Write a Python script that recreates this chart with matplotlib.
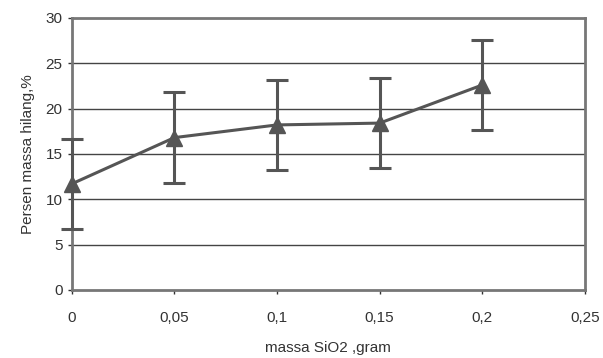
import matplotlib.pyplot as plt

plt.rcParams['font.family'] = ['Liberation Sans', 'DejaVu Sans']

# data
massa_sio2 = [0, 0.05, 0.1, 0.15, 0.2]
persen_hilang = [11.7, 16.8, 18.2, 18.4, 22.6]
galat = [5.0, 5.0, 5.0, 5.0, 5.0]

x_ticks = [0, 0.05, 0.1, 0.15, 0.2, 0.25]
x_ticklabels = ['0', '0,05', '0,1', '0,15', '0,2', '0,25']
y_ticks = [0, 5, 10, 15, 20, 25, 30]

fig = plt.figure(figsize=(6.03, 3.58), dpi=100)
ax = fig.add_axes([0.119, 0.19, 0.851, 0.76])

# horizontal grid
for yv in y_ticks[1:-1]:
    ax.axhline(yv, color='#444444', lw=1.0, zorder=1)

eb = ax.errorbar(massa_sio2, persen_hilang, yerr=galat, color='#555555',
                 lw=2.2, elinewidth=2.2, capsize=8, capthick=2.2,
                 marker='^', markersize=11, zorder=3)
# first point sits on the axis, don't clip it
for art in [eb.lines[0]] + list(eb.lines[1]) + list(eb.lines[2]):
    art.set_clip_on(False)

ax.set_xlim(0, 0.25)
ax.set_ylim(0, 30)
ax.set_xticks(x_ticks)
ax.set_xticklabels(x_ticklabels)
ax.set_yticks(y_ticks)
ax.tick_params(labelsize=11, colors='#333333', length=3, width=1)
ax.tick_params(axis='x', pad=12)

for sp in ax.spines.values():
    sp.set_color('#777777')
    sp.set_linewidth(2)

ax.set_xlabel('massa SiO2 ,gram', fontsize=11, color='#333333', labelpad=12)
ax.set_ylabel('Persen massa hilang,%', fontsize=11, color='#333333', labelpad=8)

fig.savefig('out.png', dpi=100)
